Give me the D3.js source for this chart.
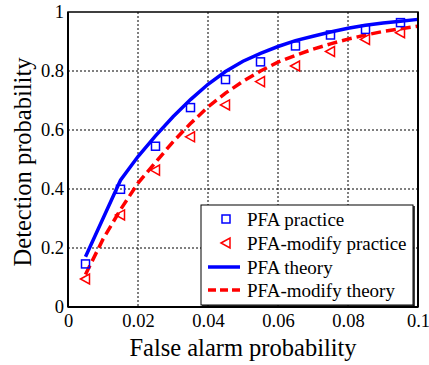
<!DOCTYPE html>
<html>
<head>
<meta charset="utf-8">
<script src="https://cdn.jsdelivr.net/npm/d3@7"></script>
<style>
  body { margin: 0; background: #fff; }
  svg text { font-family: "Liberation Serif", "Times New Roman", "DejaVu Serif", serif; fill: #000; }
</style>
</head>
<body>
<div id="chart"></div>
<script>
// practice points (markers)
const practiceX = [0.005, 0.015, 0.025, 0.035, 0.045, 0.055, 0.065, 0.075, 0.085, 0.095];
const pfaPractice = [0.146, 0.399, 0.545, 0.676, 0.771, 0.831, 0.885, 0.922, 0.941, 0.964];
const modPractice = [0.095, 0.312, 0.464, 0.577, 0.685, 0.764, 0.817, 0.866, 0.907, 0.930];

// theory curves
const theoryX = [0.005, 0.01, 0.015, 0.02, 0.025, 0.03, 0.035, 0.04, 0.045, 0.05,
                 0.055, 0.06, 0.065, 0.07, 0.075, 0.08, 0.085, 0.09, 0.095, 0.1];
const pfaTheory = [0.17, 0.30, 0.43, 0.51, 0.58, 0.645, 0.703, 0.755, 0.798, 0.833,
                   0.86, 0.883, 0.903, 0.918, 0.932, 0.945, 0.955, 0.963, 0.969, 0.975];
const modTheory = [0.11, 0.23, 0.33, 0.42, 0.49, 0.56, 0.622, 0.678, 0.725, 0.765,
                   0.80, 0.83, 0.853, 0.874, 0.892, 0.908, 0.922, 0.934, 0.943, 0.952];

const xTicks = [0, 0.02, 0.04, 0.06, 0.08, 0.1];
const yTicks = [0, 0.2, 0.4, 0.6, 0.8, 1];
const legendLabels = ["PFA practice", "PFA-modify practice", "PFA theory", "PFA-modify theory"];

const serif = '"Liberation Serif", "Times New Roman", "DejaVu Serif", serif';
const width = 429, height = 365;
const margin = { left: 68, top: 12, right: 11, bottom: 58 };
const iw = width - margin.left - margin.right;
const ih = height - margin.top - margin.bottom;

const svg = d3.select("#chart").append("svg")
    .attr("width", width)
    .attr("height", height)
    .attr("font-family", serif);

const g = svg.append("g").attr("transform", `translate(${margin.left},${margin.top})`);

const x = d3.scaleLinear().domain([0, 0.1]).range([0, iw]);
const y = d3.scaleLinear().domain([0, 1]).range([ih, 0]);

// grid lines (dotted)
g.append("g")
    .selectAll("line")
    .data(xTicks.slice(1, -1))
    .enter().append("line")
    .attr("x1", d => x(d)).attr("x2", d => x(d))
    .attr("y1", 0).attr("y2", ih)
    .style("stroke", "#000").style("stroke-width", 1).style("stroke-dasharray", "2,2");

g.append("g")
    .selectAll("line")
    .data(yTicks.slice(1, -1))
    .enter().append("line")
    .attr("x1", 0).attr("x2", iw)
    .attr("y1", d => y(d)).attr("y2", d => y(d))
    .style("stroke", "#000").style("stroke-width", 1).style("stroke-dasharray", "2,2");

// axes
const xAxis = g.append("g")
    .attr("transform", `translate(0,${ih})`)
    .call(d3.axisBottom(x).tickValues(xTicks).tickFormat(d => d3.format("~g")(d)).tickSize(0).tickPadding(7));
xAxis.attr("font-family", serif);
xAxis.selectAll("text").style("font-size", "18.5px");
xAxis.select(".domain").remove();

const yAxis = g.append("g")
    .call(d3.axisLeft(y).tickValues(yTicks).tickFormat(d => d3.format("~g")(d)).tickSize(0).tickPadding(4));
yAxis.attr("font-family", serif);
yAxis.selectAll("text").style("font-size", "18.5px");
yAxis.select(".domain").remove();

// theory lines
const line = d3.line()
    .x((d, i) => x(theoryX[i]))
    .y(d => y(d));

g.append("path")
    .datum(pfaTheory)
    .attr("d", line)
    .style("fill", "none").style("stroke", "#0000ff").style("stroke-width", 3.5);

g.append("path")
    .datum(modTheory)
    .attr("d", line)
    .style("fill", "none").style("stroke", "#ff0000").style("stroke-width", 3.5)
    .style("stroke-dasharray", "10,5");

// markers
const sq = 8;
g.append("g")
    .selectAll("rect")
    .data(pfaPractice)
    .enter().append("rect")
    .attr("x", (d, i) => x(practiceX[i]) - sq / 2)
    .attr("y", d => y(d) - sq / 2)
    .attr("width", sq).attr("height", sq)
    .style("fill", "none").style("stroke", "#0000ff").style("stroke-width", 1.5);

const tri = (cx, cy) => `M${cx - 5},${cy} L${cx + 4},${cy - 5} L${cx + 4},${cy + 5} Z`;
g.append("g")
    .selectAll("path")
    .data(modPractice)
    .enter().append("path")
    .attr("d", (d, i) => tri(x(practiceX[i]), y(d)))
    .style("fill", "none").style("stroke", "#ff0000").style("stroke-width", 1.5);

// plot frame
g.append("rect")
    .attr("width", iw).attr("height", ih)
    .style("fill", "none").style("stroke", "#000").style("stroke-width", 1.5);
g.append("line").attr("x1", 0).attr("x2", 0).attr("y1", 0).attr("y2", ih)
    .style("stroke", "#000").style("stroke-width", 2);
g.append("line").attr("x1", 0).attr("x2", iw).attr("y1", ih).attr("y2", ih)
    .style("stroke", "#000").style("stroke-width", 2);
g.append("line").attr("x1", iw).attr("x2", iw).attr("y1", 0).attr("y2", ih)
    .style("stroke", "#000").style("stroke-width", 2);

// legend
const lg = svg.append("g").attr("transform", "translate(201,205)");
lg.append("rect")
    .attr("width", 212).attr("height", 100)
    .style("fill", "#fff").style("stroke", "#000").style("stroke-width", 1);
lg.append("line").attr("x1", 1).attr("x2", 213).attr("y1", 101).attr("y2", 101)
    .style("stroke", "#000").style("stroke-width", 1.5);
lg.append("line").attr("x1", 213).attr("x2", 213).attr("y1", 1).attr("y2", 101)
    .style("stroke", "#000").style("stroke-width", 1.5);

const rowY = [14, 38, 62, 85];
const item = lg.selectAll(".item")
    .data(legendLabels)
    .enter().append("g")
    .attr("class", "item")
    .attr("transform", (d, i) => `translate(0,${rowY[i]})`);

item.append("text")
    .attr("x", 46).attr("y", 0).attr("dy", "0.35em")
    .style("font-size", "19px")
    .text(d => d);

item.filter((d, i) => i === 0).append("rect")
    .attr("x", 21).attr("y", -4).attr("width", sq).attr("height", sq)
    .style("fill", "none").style("stroke", "#0000ff").style("stroke-width", 1.5);
item.filter((d, i) => i === 1).append("path")
    .attr("d", tri(25, 0))
    .style("fill", "none").style("stroke", "#ff0000").style("stroke-width", 1.5);
item.filter((d, i) => i === 2).append("line")
    .attr("x1", 7).attr("x2", 39).attr("y1", 0).attr("y2", 0)
    .style("stroke", "#0000ff").style("stroke-width", 3.5);
item.filter((d, i) => i === 3).append("line")
    .attr("x1", 7).attr("x2", 39).attr("y1", 0).attr("y2", 0)
    .style("stroke", "#ff0000").style("stroke-width", 3.5).style("stroke-dasharray", "8,4");

// axis titles
svg.append("text")
    .attr("x", margin.left + iw / 2).attr("y", 356)
    .attr("text-anchor", "middle")
    .style("font-size", "24.5px")
    .text("False alarm probability");

svg.append("text")
    .attr("transform", `translate(31,162) rotate(-90)`)
    .attr("text-anchor", "middle")
    .style("font-size", "24.5px")
    .text("Detection probability");
</script>
</body>
</html>
